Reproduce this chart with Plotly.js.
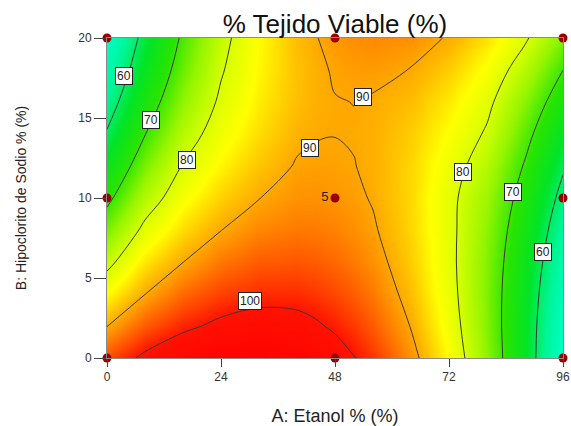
<!DOCTYPE html>
<html>
<head>
<meta charset="utf-8">
<script src="https://cdn.plot.ly/plotly-3.0.1.min.js"></script>
<style>html,body{margin:0;padding:0;background:#fff;}#chart{width:571px;height:426px;}</style>
</head>
<body>
<div id="chart"></div>
<script>
// A: Etanol % (x grid) and B: Hipoclorito de Sodio % (y grid)
const etanol = [0, 8, 16, 24, 32, 40, 44, 48, 52, 56, 64, 72, 80, 88, 96];
const hipoclorito = [0, 2, 4, 6, 8, 10, 12, 14, 16, 18, 20];
// % Tejido Viable (one row per hipoclorito value)
const viableB0  = [96.2, 101.16, 103.95, 105.86, 106.59, 105.24, 103.97, 102.30, 100.24, 97.77, 91.64, 83.90, 74.55, 63.59, 51.02];
const viableB2  = [89.87, 95.33, 98.95, 101.10, 102.08, 101.60, 100.62, 99.24, 97.48, 95.31, 89.80, 82.69, 73.98, 63.68, 51.79];
const viableB4  = [83.94, 89.93, 94.38, 97.07, 98.41, 98.39, 97.70, 96.62, 95.15, 93.28, 88.37, 81.87, 73.79, 64.13, 52.89];
const viableB6  = [78.43, 85.55, 89.94, 93.38, 95.27, 95.62, 95.22, 94.42, 93.24, 91.67, 87.35, 81.45, 73.99, 64.94, 54.33];
const viableB8  = [73.34, 81.30, 86.33, 89.92, 92.37, 93.29, 93.17, 92.66, 91.77, 90.48, 86.74, 81.43, 74.56, 66.11, 56.10];
const viableB10 = [68.65, 77.16, 83.15, 87.10, 89.91, 91.59, 91.65, 91.32, 90.72, 89.71, 86.54, 81.40, 75.51, 67.64, 58.21];
const viableB12 = [64.38, 73.45, 80.30, 84.61, 87.89, 90.33, 90.57, 90.42, 90.09, 89.37, 86.76, 82.30, 77.30, 69.53, 60.66];
const viableB14 = [60.51, 69.86, 77.38, 82.56, 86.30, 89.20, 89.82, 89.95, 89.80, 89.44, 87.38, 83.75, 79.40, 71.79, 63.45];
const viableB16 = [57.06, 66.80, 74.79, 80.84, 85.15, 88.40, 89.40, 89.90, 90.03, 89.65, 88.42, 85.32, 81.20, 74.39, 66.56];
const viableB18 = [54.03, 64.15, 72.64, 79.56, 84.43, 88.14, 89.41, 90.29, 90.78, 90.87, 89.87, 87.29, 83.40, 77.36, 70.02];
const viableB20 = [51.40, 61.93, 70.91, 78.42, 84.15, 88.42, 89.86, 91.11, 91.87, 92.21, 91.73, 89.65, 85.97, 80.69, 73.81];

// design points
const designA = [0, 48, 96, 0, 96, 0, 48, 96];
const designB = [0, 0, 0, 10, 10, 20, 20, 20];
const centerA = [48];
const centerB = [10];
const centerReps = ['5'];

// contour label texts and where they sit
const labelText = ['60', '70', '80', '90', '90', '100', '80', '70', '60'];
const labelA = [3.6, 9.3, 16.8, 42.7, 53.9, 30.0, 74.9, 85.4, 91.8];
const labelB = [17.6, 14.9, 12.4, 13.15, 16.3, 3.55, 11.6, 10.4, 6.6];

const xTicks = [0, 24, 48, 72, 96];
const yTicks = [0, 5, 10, 15, 20];

const z = [viableB0, viableB2, viableB4, viableB6, viableB8, viableB10,
           viableB12, viableB14, viableB16, viableB18, viableB20];

const font = 'Arial, "Liberation Sans", sans-serif';

const contour = {
  type: 'contour',
  x: etanol, y: hipoclorito, z: z,
  zauto: false, zmin: 50, zmax: 107,
  colorscale: [
    [0.0, 'rgb(0,255,210)'],
    [0.1228, 'rgb(0,245,150)'],
    [0.2281, 'rgb(0,228,40)'],
    [0.3333, 'rgb(40,228,0)'],
    [0.4386, 'rgb(150,245,0)'],
    [0.5263, 'rgb(215,255,0)'],
    [0.5965, 'rgb(255,255,0)'],
    [0.6667, 'rgb(255,195,0)'],
    [0.7368, 'rgb(255,140,0)'],
    [0.8246, 'rgb(255,65,0)'],
    [0.8772, 'rgb(255,18,0)'],
    [1.0, 'rgb(255,0,0)']
  ],
  showscale: false,
  contours: {coloring: 'heatmap', start: 60, end: 100, size: 10, showlabels: false},
  line: {color: '#3a3a3a', width: 1, smoothing: 1},
  hoverinfo: 'skip'
};

const points = {
  type: 'scatter', mode: 'markers',
  x: designA, y: designB,
  marker: {size: 9, color: '#9a0000'},
  cliponaxis: false, hoverinfo: 'skip'
};
const center = {
  type: 'scatter', mode: 'markers+text',
  x: centerA, y: centerB, text: centerReps, textposition: 'middle left',
  textfont: {family: font, size: 13, color: '#222'},
  marker: {size: 9, color: '#9a0000'},
  cliponaxis: false, hoverinfo: 'skip'
};

const annotations = labelText.map((t, i) => ({
  x: labelA[i], y: labelB[i], xref: 'x', yref: 'y', text: t, showarrow: false,
  bgcolor: '#fff', bordercolor: '#222', borderwidth: 1, borderpad: 1,
  font: {family: font, size: 12, color: '#222'}
}));

const layout = {
  width: 571, height: 426,
  margin: {l: 107, r: 8, t: 38, b: 68},
  paper_bgcolor: '#fff', plot_bgcolor: '#fff',
  showlegend: false,
  title: {text: '% Tejido Viable (%)', font: {family: font, size: 26, color: '#111'},
          x: 0.5, xref: 'paper', xanchor: 'center', y: 0.945, yref: 'container', yanchor: 'middle'},
  xaxis: {
    range: [0, 96], tickvals: xTicks, ticks: 'outside', ticklen: 8, tickcolor: '#444',
    ticklabeloverflow: 'allow',
    showline: true, linecolor: '#8a8a8a', mirror: true, showgrid: false, zeroline: false,
    tickfont: {family: font, size: 12, color: '#333'},
    title: {text: 'A: Etanol % (%)', font: {family: font, size: 18, color: '#222'}, standoff: 28}
  },
  yaxis: {
    range: [0, 20], tickvals: yTicks, ticks: 'outside', ticklen: 12, tickcolor: '#444',
    showline: true, linecolor: '#8a8a8a', mirror: true, showgrid: false, zeroline: false,
    tickfont: {family: font, size: 12, color: '#333'},
    title: {text: 'B: Hipoclorito de Sodio % (%)', font: {family: font, size: 14, color: '#222'}, standoff: 48}
  },
  annotations: annotations
};

Plotly.newPlot('chart', [contour, points, center], layout, {displayModeBar: false, staticPlot: true});
</script>
</body>
</html>
